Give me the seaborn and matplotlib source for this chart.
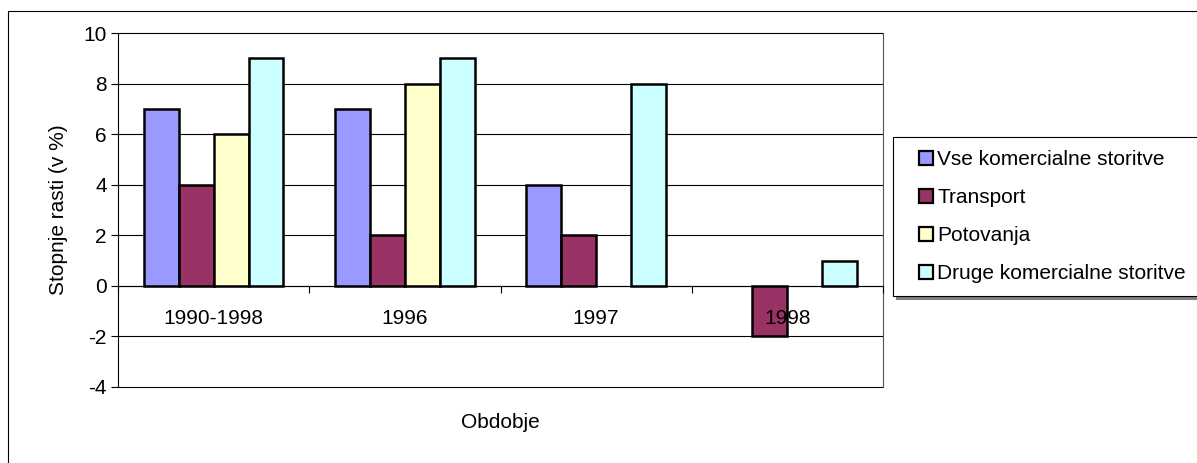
import numpy as np
import pandas as pd
import matplotlib
matplotlib.use("Agg")
import matplotlib.pyplot as plt
from matplotlib.lines import Line2D
from matplotlib.patches import Rectangle
from matplotlib.legend_handler import HandlerPatch
from matplotlib.ticker import FixedLocator
import seaborn as sns

# data
periods = ["1990-1998", "1996", "1997", "1998"]
series = ["Vse komercialne storitve", "Transport", "Potovanja",
          "Druge komercialne storitve"]
vse = [7, 7, 4, np.nan]
transport = [4, 2, 2, -2]
potovanja = [6, 8, np.nan, np.nan]
druge = [9, 9, 8, 1]
colors = ["#9999FF", "#993366", "#FFFFCC", "#CCFFFF"]

rows = []
for name, vals in zip(series, [vse, transport, potovanja, druge]):
    for p, v in zip(periods, vals):
        rows.append({"Obdobje": p, "serija": name, "vrednost": v})
df = pd.DataFrame(rows)

sns.set_theme(style="white")
plt.rcParams["font.family"] = ["Liberation Sans", "DejaVu Sans"]
plt.rcParams["axes.unicode_minus"] = False
FS = 15
LFS = 15

fig = plt.figure(figsize=(11.97, 4.63), dpi=100)
W, H = 1197, 463
ax = fig.add_axes([118 / W, 1 - 387 / H, (883 - 118) / W, (387 - 33) / H])

# gridlines under the bars
for y in range(-4, 11, 2):
    ax.axhline(y, color="black", lw=0.8, zorder=0, clip_on=False)

sns.barplot(data=df, x="Obdobje", y="vrednost", hue="serija",
            hue_order=series, order=periods, palette=colors, saturation=1,
            edgecolor="black", linewidth=1.8, width=0.73, gap=0,
            errorbar=None, ax=ax, zorder=2, legend=True)

ax.set_axisbelow(False)
ax.set_xlim(-0.5, 3.5)
ax.set_ylim(-4, 10)
ax.set_yticks(range(-4, 11, 2))
ax.tick_params(axis="y", labelsize=FS, length=5, width=0.8, direction="out",
               left=True, pad=3, colors="black")

# category axis drawn at zero, like the original
ax.spines["bottom"].set_position(("data", 0))
ax.spines["bottom"].set_linewidth(0.8)
ax.spines["bottom"].set_color("black")
ax.spines["top"].set_visible(False)
ax.spines["left"].set_color("black")
ax.spines["left"].set_linewidth(0.8)
ax.spines["right"].set_color("#555555")
ax.spines["right"].set_linewidth(0.8)
ax.xaxis.set_major_locator(FixedLocator([-0.5, 0.5, 1.5, 2.5, 3.5]))
ax.xaxis.set_major_formatter(plt.NullFormatter())
ax.xaxis.set_minor_locator(FixedLocator([0, 1, 2, 3]))
ax.xaxis.set_minor_formatter(plt.FixedFormatter(periods))
ax.tick_params(axis="x", which="major", length=5, width=0.8, direction="out",
               bottom=True, colors="black")
ax.tick_params(axis="x", which="minor", length=0, pad=17, labelsize=FS,
               bottom=True, labelcolor="black")
ax.set_xlabel("")
ax.set_ylabel("Stopnje rasti (v %)", fontsize=FS, color="black", labelpad=11)
fig.text(500 / W, 1 - 423 / H, "Obdobje", fontsize=FS, ha="center",
         va="center", color="black")


# legend: small squares sitting at the right end of the handle box
def square_handle(legend, orig_handle, xdescent, ydescent, width, height, fontsize):
    s = 10
    return Rectangle((-xdescent + width - s, -ydescent + (height - s) / 2), s, s)


handles = [Rectangle((0, 0), 1, 1, facecolor=c, edgecolor="black", lw=1.6)
           for c in colors]
ax.get_legend().remove()
leg = fig.legend(handles, series, loc="upper left",
                 bbox_to_anchor=(893 / W, 1 - 291 / H, 330 / W, 154 / H),
                 mode="expand", fontsize=LFS, frameon=True, fancybox=False,
                 edgecolor="black", framealpha=1, labelspacing=0.92,
                 handlelength=1.3, handleheight=0.7, handletextpad=0.2,
                 borderpad=0.62, borderaxespad=0,
                 handler_map={Rectangle: HandlerPatch(patch_func=square_handle)},
                 shadow={"color": "#808080", "alpha": 1})
leg.get_frame().set_linewidth(0.8)
for t in leg.get_texts():
    t.set_color("black")

# outer chart border (left and top visible)
fig.add_artist(Line2D([8 / W, 8 / W], [0, 1 - 11 / H], transform=fig.transFigure,
                      color="black", lw=0.8))
fig.add_artist(Line2D([8 / W, 1], [1 - 11 / H, 1 - 11 / H],
                      transform=fig.transFigure, color="black", lw=0.8))

fig.savefig("out.png", dpi=100, facecolor="white")
